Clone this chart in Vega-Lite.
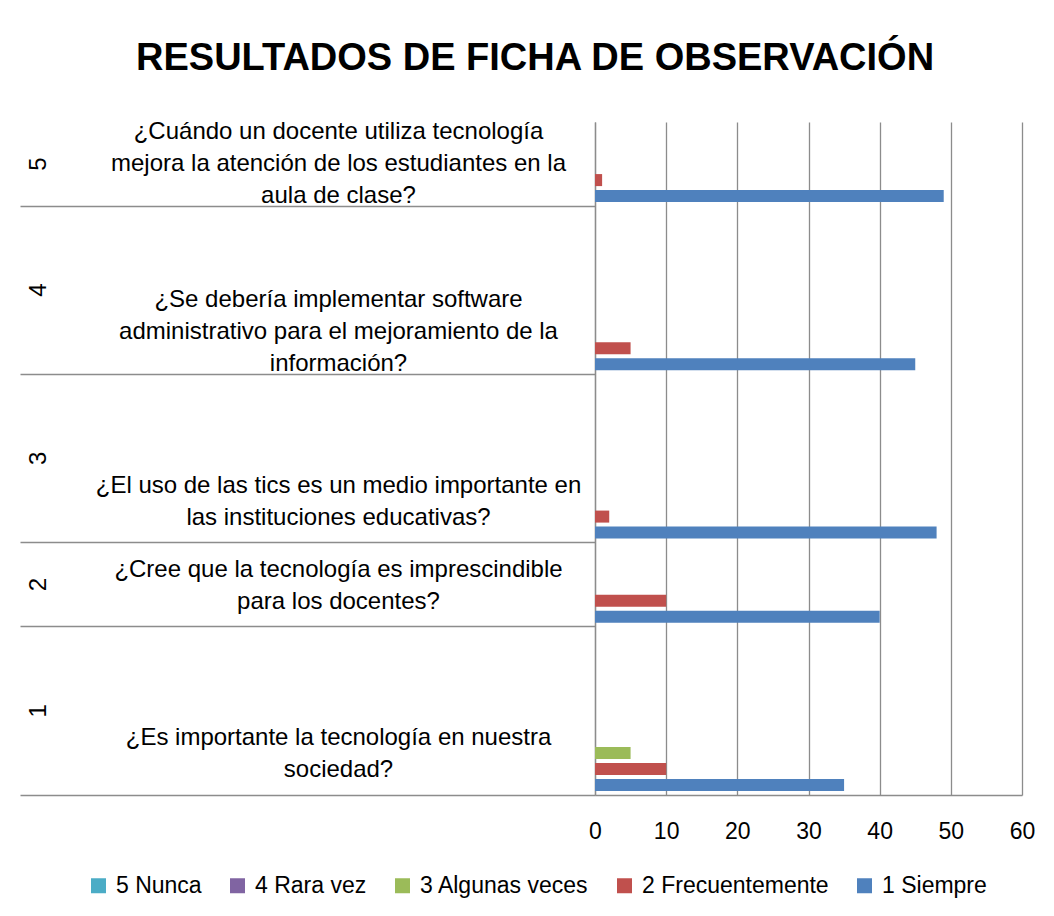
{
  "$schema": "https://vega.github.io/schema/vega-lite/v6.json",
  "autosize": {"type": "none"},
  "width": 427,
  "height": 673,
  "padding": {"left": 595, "top": 122, "right": 32, "bottom": 121},
  "title": {
    "text": "RESULTADOS DE FICHA DE OBSERVACIÓN",
    "font": "Liberation Sans",
    "fontSize": 38,
    "fontWeight": "bold",
    "color": "#000000",
    "anchor": "middle",
    "frame": "bounds",
    "baseline": "alphabetic",
    "offset": 12,
    "dx": 8
  },
  "config": {
    "font": "Liberation Sans",
    "view": {"stroke": null}
  },
  "data": {
    "values": [
      {"categoria": "5|¿Cuándo un docente utiliza tecnología|mejora la atención de los estudiantes en la|aula de clase?", "serie": "1 Siempre", "valor": 49},
      {"categoria": "5|¿Cuándo un docente utiliza tecnología|mejora la atención de los estudiantes en la|aula de clase?", "serie": "2 Frecuentemente", "valor": 1},
      {"categoria": "5|¿Cuándo un docente utiliza tecnología|mejora la atención de los estudiantes en la|aula de clase?", "serie": "3 Algunas veces", "valor": 0},
      {"categoria": "5|¿Cuándo un docente utiliza tecnología|mejora la atención de los estudiantes en la|aula de clase?", "serie": "4 Rara vez", "valor": 0},
      {"categoria": "5|¿Cuándo un docente utiliza tecnología|mejora la atención de los estudiantes en la|aula de clase?", "serie": "5 Nunca", "valor": 0},
      {"categoria": "4|¿Se debería implementar software|administrativo para el mejoramiento de la|información?", "serie": "1 Siempre", "valor": 45},
      {"categoria": "4|¿Se debería implementar software|administrativo para el mejoramiento de la|información?", "serie": "2 Frecuentemente", "valor": 5},
      {"categoria": "4|¿Se debería implementar software|administrativo para el mejoramiento de la|información?", "serie": "3 Algunas veces", "valor": 0},
      {"categoria": "4|¿Se debería implementar software|administrativo para el mejoramiento de la|información?", "serie": "4 Rara vez", "valor": 0},
      {"categoria": "4|¿Se debería implementar software|administrativo para el mejoramiento de la|información?", "serie": "5 Nunca", "valor": 0},
      {"categoria": "3|¿El uso de las tics es un medio importante en|las instituciones educativas?", "serie": "1 Siempre", "valor": 48},
      {"categoria": "3|¿El uso de las tics es un medio importante en|las instituciones educativas?", "serie": "2 Frecuentemente", "valor": 2},
      {"categoria": "3|¿El uso de las tics es un medio importante en|las instituciones educativas?", "serie": "3 Algunas veces", "valor": 0},
      {"categoria": "3|¿El uso de las tics es un medio importante en|las instituciones educativas?", "serie": "4 Rara vez", "valor": 0},
      {"categoria": "3|¿El uso de las tics es un medio importante en|las instituciones educativas?", "serie": "5 Nunca", "valor": 0},
      {"categoria": "2|¿Cree que la tecnología es imprescindible|para los docentes?", "serie": "1 Siempre", "valor": 40},
      {"categoria": "2|¿Cree que la tecnología es imprescindible|para los docentes?", "serie": "2 Frecuentemente", "valor": 10},
      {"categoria": "2|¿Cree que la tecnología es imprescindible|para los docentes?", "serie": "3 Algunas veces", "valor": 0},
      {"categoria": "2|¿Cree que la tecnología es imprescindible|para los docentes?", "serie": "4 Rara vez", "valor": 0},
      {"categoria": "2|¿Cree que la tecnología es imprescindible|para los docentes?", "serie": "5 Nunca", "valor": 0},
      {"categoria": "1|¿Es importante la tecnología en nuestra|sociedad?", "serie": "1 Siempre", "valor": 35},
      {"categoria": "1|¿Es importante la tecnología en nuestra|sociedad?", "serie": "2 Frecuentemente", "valor": 10},
      {"categoria": "1|¿Es importante la tecnología en nuestra|sociedad?", "serie": "3 Algunas veces", "valor": 5},
      {"categoria": "1|¿Es importante la tecnología en nuestra|sociedad?", "serie": "4 Rara vez", "valor": 0},
      {"categoria": "1|¿Es importante la tecnología en nuestra|sociedad?", "serie": "5 Nunca", "valor": 0}
    ]
  },
  "layer": [
    {
      "mark": {"type": "bar"},
      "encoding": {
        "x": {
          "field": "valor",
          "type": "quantitative",
          "scale": {"domain": [0, 60], "nice": false},
          "axis": {
            "title": null,
            "values": [0, 10, 20, 30, 40, 50, 60],
            "grid": true,
            "gridColor": "#8c8c8c",
            "gridWidth": 1.3,
            "ticks": false,
            "domain": true,
            "domainColor": "#8c8c8c",
            "domainWidth": 1.3,
            "labelFontSize": 23,
            "labelPadding": 25,
            "labelColor": "#000000",
            "labelFlush": false
          }
        },
        "y": {
          "field": "categoria",
          "type": "nominal",
          "scale": {
            "domain": [
              "5|¿Cuándo un docente utiliza tecnología|mejora la atención de los estudiantes en la|aula de clase?",
              "4|",
              "4|¿Se debería implementar software|administrativo para el mejoramiento de la|información?",
              "3|",
              "3|¿El uso de las tics es un medio importante en|las instituciones educativas?",
              "2|¿Cree que la tecnología es imprescindible|para los docentes?",
              "1|",
              "1|¿Es importante la tecnología en nuestra|sociedad?"
            ],
            "paddingInner": 0,
            "paddingOuter": 0
          },
          "axis": {
            "orient": "left",
            "title": null,
            "values": [
              "5|¿Cuándo un docente utiliza tecnología|mejora la atención de los estudiantes en la|aula de clase?",
              "4|¿Se debería implementar software|administrativo para el mejoramiento de la|información?",
              "3|¿El uso de las tics es un medio importante en|las instituciones educativas?",
              "2|¿Cree que la tecnología es imprescindible|para los docentes?",
              "1|¿Es importante la tecnología en nuestra|sociedad?"
            ],
            "bandPosition": 1,
            "ticks": true,
            "tickSize": 575,
            "tickColor": "#8c8c8c",
            "tickWidth": 1.3,
            "domain": true,
            "domainColor": "#8c8c8c",
            "domainWidth": 1.3,
            "grid": false,
            "labelExpr": "slice(split(datum.value, '|'), 1)",
            "labelAngle": 0,
            "labelAlign": "center",
            "labelBaseline": "middle",
            "labelPadding": -318,
            "labelOffset": {"condition": {"test": "length(split(datum.value, '|')) > 3", "value": -32}, "value": -15},
            "labelFontSize": 24,
            "labelLineHeight": 32,
            "labelLimit": 0,
            "labelOverlap": false,
            "labelColor": "#000000"
          }
        },
        "yOffset": {
          "field": "serie",
          "type": "nominal",
          "scale": {
            "domain": ["5 Nunca", "4 Rara vez", "3 Algunas veces", "2 Frecuentemente", "1 Siempre"],
            "paddingInner": 0.25,
            "paddingOuter": 0.25
          }
        },
        "color": {
          "field": "serie",
          "type": "nominal",
          "scale": {
            "domain": ["5 Nunca", "4 Rara vez", "3 Algunas veces", "2 Frecuentemente", "1 Siempre"],
            "range": ["#4BACC6", "#8064A2", "#9BBB59", "#C0504D", "#4F81BD"]
          },
          "legend": {
            "orient": "none",
            "legendX": -508,
            "legendY": 752,
            "direction": "horizontal",
            "columns": 5,
            "title": null,
            "symbolType": "square",
            "symbolSize": 225,
            "symbolStrokeWidth": 0,
            "symbolOpacity": 1,
            "labelFontSize": 23,
            "labelColor": "#000000",
            "labelOffset": 6,
            "columnPadding": 24,
            "padding": 0,
            "labelLimit": 0
          }
        }
      }
    },
    {
      "mark": {"type": "text", "text": ""},
      "encoding": {
        "y": {
          "field": "categoria",
          "type": "nominal",
          "scale": {
            "domain": [
              "5|¿Cuándo un docente utiliza tecnología|mejora la atención de los estudiantes en la|aula de clase?",
              "4|",
              "4|¿Se debería implementar software|administrativo para el mejoramiento de la|información?",
              "3|",
              "3|¿El uso de las tics es un medio importante en|las instituciones educativas?",
              "2|¿Cree que la tecnología es imprescindible|para los docentes?",
              "1|",
              "1|¿Es importante la tecnología en nuestra|sociedad?"
            ],
            "paddingInner": 0,
            "paddingOuter": 0
          },
          "axis": {
            "orient": "left",
            "title": null,
            "values": [
              "5|¿Cuándo un docente utiliza tecnología|mejora la atención de los estudiantes en la|aula de clase?",
              "4|",
              "3|",
              "2|¿Cree que la tecnología es imprescindible|para los docentes?",
              "1|"
            ],
            "ticks": false,
            "tickSize": 0,
            "domain": false,
            "grid": false,
            "labelExpr": "split(datum.value, '|')[0]",
            "labelAngle": -90,
            "labelAlign": "center",
            "labelBaseline": "middle",
            "labelPadding": 557,
            "labelOffset": {"condition": {"test": "length(split(datum.value, '|')) == 2", "value": 42}, "value": 0},
            "labelFontSize": 24,
            "labelLimit": 0,
            "labelOverlap": false,
            "labelColor": "#000000"
          }
        }
      }
    }
  ],
  "resolve": {"axis": {"y": "independent"}}
}
